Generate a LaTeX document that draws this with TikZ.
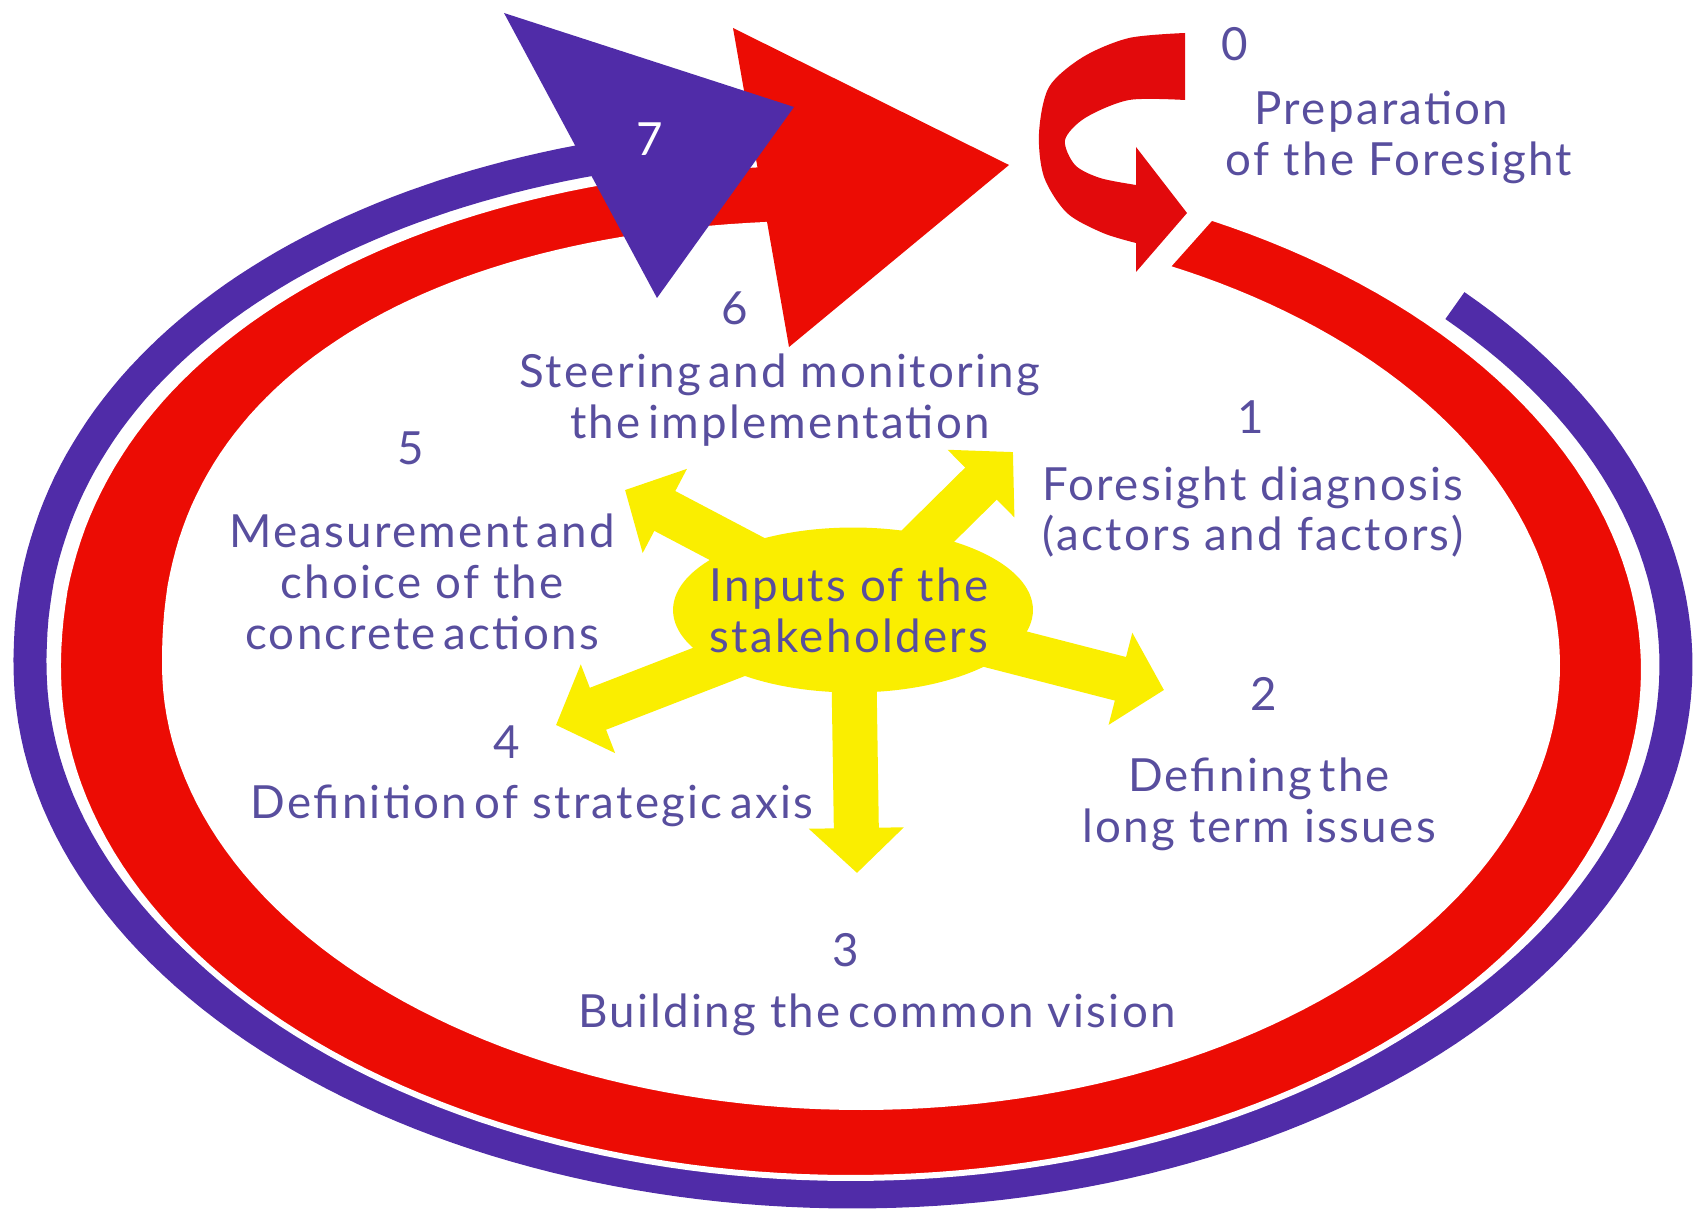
\documentclass[tikz,border=0pt]{standalone}
\usepackage{fontspec}
\setmainfont{Lato}[LetterSpace=5]
\usetikzlibrary{arrows.meta,shapes.geometric}
\definecolor{ringred}{RGB}{236,12,4}
\definecolor{curlred}{RGB}{226,10,12}
\definecolor{ringpurple}{RGB}{80,44,168}
\definecolor{hubyellow}{RGB}{250,238,0}
\definecolor{labelpurple}{RGB}{88,78,158}

\begin{document}
\begin{tikzpicture}[
    x=0.02cm,
    y=-0.02cm,
    steplabel/.style={
        text=labelpurple,
        font=\fontsize{26}{29}\selectfont,
        align=center,
        inner sep=0pt
    },
    spoke/.style={
        draw=hubyellow,
        line width=0.9cm,
        -{Triangle[length=0.9cm 0 0, width=1.85cm 0 0]}
    },
    hubblob/.style={
        ellipse,
        fill=hubyellow,
        minimum width=7.2cm,
        minimum height=3.3cm,
        inner sep=0pt
    }
]
    \useasboundingbox (0,0) rectangle (1706,1209);

    % Outer purple loop
    \draw[ringpurple, line width=0.66cm]
        plot[domain=-43:180, samples=150] ({853+823*cos(\x)},{665+527*sin(\x)})
        -- plot[domain=180.5:256, samples=60] ({853-823*pow(abs(cos(\x)),0.9302)},{665-527*pow(abs(sin(\x)),0.9302)});

    % Red loop and its head
    \fill[ringred, draw=white, line width=0.12cm]
        plot[domain=-63:180, samples=150] ({851+793*cos(\x)},{670+508*sin(\x)})
        -- plot[domain=180.5:265, samples=60] ({851-793*pow(abs(cos(\x)),0.9302)},{670-508*pow(abs(sin(\x)),0.9302)})
        -- plot[domain=266:180.5, samples=60] ({861-696*pow(abs(cos(\x)),0.8696)},{665-442*pow(abs(sin(\x)),0.8696)})
        -- plot[domain=180:-64, samples=150] ({861+696*cos(\x)},{665+442*sin(\x)})
        -- cycle;
    \fill[ringred] (733,28) -- (1009,165) -- (789,347) -- cycle;
    \fill[ringpurple] (504,13) -- (794,107) -- (657,298) -- cycle;

    % Curl of step 0
    \fill[curlred]
        plot[smooth] coordinates {(1185,33) (1129,38) (1083,57) (1049,87) (1039,133) (1044,177) (1067,213) (1103,233) (1136,243)}
        -- (1136,272) -- (1187,213) -- (1136,147)
        -- plot[smooth] coordinates {(1136,185) (1100,178) (1075,165) (1065,140) (1085,118) (1129,100) (1185,100)}
        -- cycle;

    % Spokes of the stakeholders
    \coordinate (hub) at (853,610);
    \coordinate (tipA) at (625,490);
    \coordinate (tipB) at (1013,452);
    \coordinate (tipC) at (1164,690);
    \coordinate (tipD) at (857,873);
    \coordinate (tipE) at (556,725);
    \foreach \t in {tipA,tipB,tipC,tipD,tipE}
        \draw[spoke] (hub) -- (\t);
    \node[hubblob] (blob) at (hub) {};
    \node[steplabel] (hubtext) at (849,610) {Inputs of the\\stakeholders};

    % Steps
    \node[steplabel] (n0) at (1235,44) {0};
    \node[steplabel] (t0) at (1399,137) {\hspace*{-0.7cm}Preparation\\of the Foresight};
    \node[steplabel, text=white] (n7) at (650,139) {7};
    \node[steplabel] (n6) at (735,308) {6};
    \node[steplabel] (t6) at (780,400) {Steering\,and monitoring\\the\,implementation};
    \node[steplabel] (n1) at (1251,417) {1};
    \node[steplabel] (t1) at (1253,512) {Foresight diagnosis\\(actors and factors)};
    \node[steplabel] (n5) at (411,448) {5};
    \node[steplabel] (t5) at (422,582) {Measurement\,and\\choice of the\\concrete\,actions};
    \node[steplabel] (n2) at (1264,694) {2};
    \node[steplabel] (t2) at (1259,804) {Defining\,the\\long term issues};
    \node[steplabel] (n4) at (507,742) {4};
    \node[steplabel] (t4) at (532,806) {Definition\,of strategic\,axis};
    \node[steplabel] (n3) at (846,950) {3};
    \node[steplabel] (t3) at (877,1015) {Building the\,common vision};
\end{tikzpicture}
\end{document}
